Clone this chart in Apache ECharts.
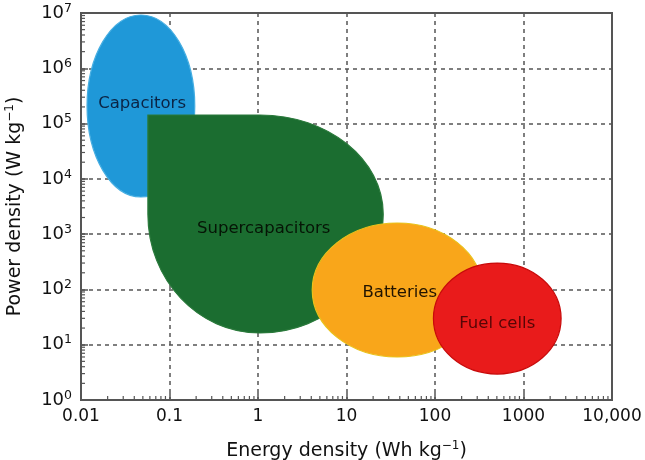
<!DOCTYPE html>
<html><head><meta charset="utf-8">
<script src="https://cdn.jsdelivr.net/npm/echarts@6/dist/echarts.min.js"></script>
<style>html,body{margin:0;padding:0;background:#fff}#chart{width:645px;height:460px}</style>
</head><body><div id="chart"></div>
<script>
// ---- axis ticks ----
const energyTicks = [0.01, 0.1, 1, 10, 100, 1000, 10000];
const energyTickLabels = ['0.01', '0.1', '1', '10', '100', '1000', '10,000'];
const powerDecades = [1, 10, 100, 1000, 1e4, 1e5, 1e6, 1e7];
const powerExponents = ['0', '1', '2', '3', '4', '5', '6', '7'];
const minorMultipliers = [2, 3, 4, 5, 6, 7, 8, 9];

// ---- regions (Ragone plot) ----
const regionNames = ['Capacitors', 'Supercapacitors', 'Batteries', 'Fuel cells'];
const energyMin = [0.0117, 0.057, 4.1, 96];      // Wh/kg
const energyMax = [0.193, 26, 342, 2660];
const powerMin  = [4700, 16.3, 6.0, 2.95];      // W/kg
const powerMax  = [9.2e6, 1.43e5, 1590, 300];
const kneeEnergy = [NaN, 1.05, NaN, NaN];        // supercapacitor rounded-corner centre
const kneePower  = [NaN, 2300, NaN, NaN];
const labelEnergy = [0.049, 1.16, 40, 505];
const labelPower  = [2.26e5, 1250, 86, 23.7];

const FONT = '"DejaVu Sans", "Liberation Sans", Arial, sans-serif';
const fills   = ['#1f98d8', '#1b6d30', '#f9a61a', '#e91b1b'];
const strokes = ['#46aee2', '#2b7a3c', '#e9c21a', '#c80a0a'];
const textCols = ['#0b2444', '#061506', '#221400', '#560606'];

const regionData = regionNames.map((n, i) => [energyMin[i], powerMin[i], energyMax[i], powerMax[i], kneeEnergy[i], kneePower[i]]);
const labelData = regionNames.map((n, i) => [labelEnergy[i], labelPower[i]]);
const minorX = energyTicks.slice(0, -1).flatMap(d => minorMultipliers.map(m => [d * m, powerDecades[0]]));
const minorY = powerDecades.slice(0, -1).flatMap(d => minorMultipliers.map(m => [energyTicks[0], d * m]));

const K = 0.5523;
function ellipsePath(cx, cy, rx, ry) {
  return 'M' + (cx + rx) + ' ' + cy +
    ' C' + (cx + rx) + ' ' + (cy + K * ry) + ' ' + (cx + K * rx) + ' ' + (cy + ry) + ' ' + cx + ' ' + (cy + ry) +
    ' C' + (cx - K * rx) + ' ' + (cy + ry) + ' ' + (cx - rx) + ' ' + (cy + K * ry) + ' ' + (cx - rx) + ' ' + cy +
    ' C' + (cx - rx) + ' ' + (cy - K * ry) + ' ' + (cx - K * rx) + ' ' + (cy - ry) + ' ' + cx + ' ' + (cy - ry) +
    ' C' + (cx + K * rx) + ' ' + (cy - ry) + ' ' + (cx + rx) + ' ' + (cy - K * ry) + ' ' + (cx + rx) + ' ' + cy + ' Z';
}
function kneePath(x0, y0, x1, y1, kx, ky) {
  return 'M' + x0 + ' ' + y0 + ' L' + kx + ' ' + y0 +
    ' C' + (kx + K * (x1 - kx)) + ' ' + y0 + ' ' + x1 + ' ' + (ky - K * (ky - y0)) + ' ' + x1 + ' ' + ky +
    ' C' + x1 + ' ' + (ky + K * (y1 - ky)) + ' ' + (kx + K * (x1 - kx)) + ' ' + y1 + ' ' + kx + ' ' + y1 +
    ' C' + (kx - K * (kx - x0)) + ' ' + y1 + ' ' + x0 + ' ' + (ky + K * (y1 - ky)) + ' ' + x0 + ' ' + ky +
    ' L' + x0 + ' ' + y0 + ' Z';
}

function renderRegion(params, api) {
  const i = params.dataIndex;
  const lb = api.coord([api.value(0), api.value(1)]);
  const rt = api.coord([api.value(2), api.value(3)]);
  const x0 = lb[0], y1 = lb[1], x1 = rt[0], y0 = rt[1];
  const kE = api.value(4), kP = api.value(5);
  let d;
  if (isNaN(kE)) {
    d = ellipsePath((x0 + x1) / 2, (y0 + y1) / 2, (x1 - x0) / 2, (y1 - y0) / 2);
  } else {
    const k = api.coord([kE, kP]);
    d = kneePath(x0, y0, x1, y1, k[0], k[1]);
  }
  return { type: 'path', shape: { pathData: d }, style: { fill: fills[i], stroke: strokes[i], lineWidth: 1.2 } };
}
function renderLabel(params, api) {
  const i = params.dataIndex;
  const p = api.coord([api.value(0), api.value(1)]);
  return { type: 'text', x: p[0], y: p[1], style: { text: regionNames[i], fill: textCols[i], fontSize: 16.5, fontFamily: FONT, align: 'center', verticalAlign: 'middle' } };
}
function renderMinorX(params, api) {
  const p = api.coord([api.value(0), api.value(1)]);
  return { type: 'line', shape: { x1: p[0], y1: p[1], x2: p[0], y2: p[1] - 4 }, style: { stroke: '#555', lineWidth: 1.2 } };
}
function renderMinorY(params, api) {
  const p = api.coord([api.value(0), api.value(1)]);
  return { type: 'line', shape: { x1: p[0], y1: p[1], x2: p[0] + 4, y2: p[1] }, style: { stroke: '#555', lineWidth: 1.2 } };
}

function energyLabel(v) {
  for (let i = 0; i < energyTicks.length; i++) {
    if (Math.abs(Math.log10(v) - Math.log10(energyTicks[i])) < 1e-6) return energyTickLabels[i];
  }
  return '';
}
function powerLabel(v) {
  for (let i = 0; i < powerDecades.length; i++) {
    if (Math.abs(Math.log10(v) - Math.log10(powerDecades[i])) < 1e-6) return '{b|10}{sup|' + powerExponents[i] + '}';
  }
  return '';
}

const axisColor = '#555';
const chart = echarts.init(document.getElementById('chart'), null, { renderer: 'canvas' });
chart.setOption({
  animation: false,
  backgroundColor: '#fff',
  grid: { left: 81, right: 33, top: 13, bottom: 60, outerBoundsMode: 'none', containLabel: false,
          show: true, borderColor: axisColor, borderWidth: 2, backgroundColor: 'transparent' },
  xAxis: {
    type: 'log', logBase: 10, min: 0.01, max: 10000, splitNumber: 6,
    axisLine: { show: true, lineStyle: { color: axisColor, width: 2 } },
    axisTick: { show: true, inside: true, length: 7, lineStyle: { color: axisColor, width: 1.5 } },
    axisLabel: { margin: 8, color: '#111', fontSize: 17, fontFamily: FONT, lineHeight: 18, formatter: energyLabel },
    splitLine: { show: true, lineStyle: { color: axisColor, width: 1.5, type: [4, 4] } },
    name: 'Energy density (Wh kg{sup|−1})', nameLocation: 'middle', nameGap: 40,
    nameTextStyle: { color: '#111', fontSize: 19, fontFamily: FONT, lineHeight: 22,
      rich: { sup: { fontSize: 12, fontFamily: FONT, color: '#111', verticalAlign: 'top', lineHeight: 12 } } }
  },
  yAxis: {
    type: 'log', logBase: 10, min: 1, max: 1e7, splitNumber: 7,
    axisLine: { show: true, lineStyle: { color: axisColor, width: 2 } },
    axisTick: { show: true, inside: true, length: 7, lineStyle: { color: axisColor, width: 1.5 } },
    axisLabel: { margin: 9, color: '#111', formatter: powerLabel,
      rich: { b: { fontSize: 18, fontFamily: FONT, color: '#111', lineHeight: 22 },
              sup: { fontSize: 12.5, fontFamily: FONT, color: '#111', verticalAlign: 'top', lineHeight: 12 } } },
    splitLine: { show: true, lineStyle: { color: axisColor, width: 1.5, type: [4, 4] } },
    name: 'Power density (W kg{sup|−1})', nameLocation: 'middle', nameGap: 55,
    nameTextStyle: { color: '#111', fontSize: 19, fontFamily: FONT, lineHeight: 22,
      rich: { sup: { fontSize: 12, fontFamily: FONT, color: '#111', verticalAlign: 'top', lineHeight: 12 } } }
  },
  series: [
    { type: 'custom', name: 'regions', coordinateSystem: 'cartesian2d', renderItem: renderRegion, data: regionData, silent: true, z: 2 },
    { type: 'custom', name: 'labels', coordinateSystem: 'cartesian2d', renderItem: renderLabel, data: labelData, silent: true, z: 3 },
    { type: 'custom', name: 'minorX', coordinateSystem: 'cartesian2d', renderItem: renderMinorX, data: minorX, silent: true, z: 4 },
    { type: 'custom', name: 'minorY', coordinateSystem: 'cartesian2d', renderItem: renderMinorY, data: minorY, silent: true, z: 4 }
  ]
});
</script></body></html>
